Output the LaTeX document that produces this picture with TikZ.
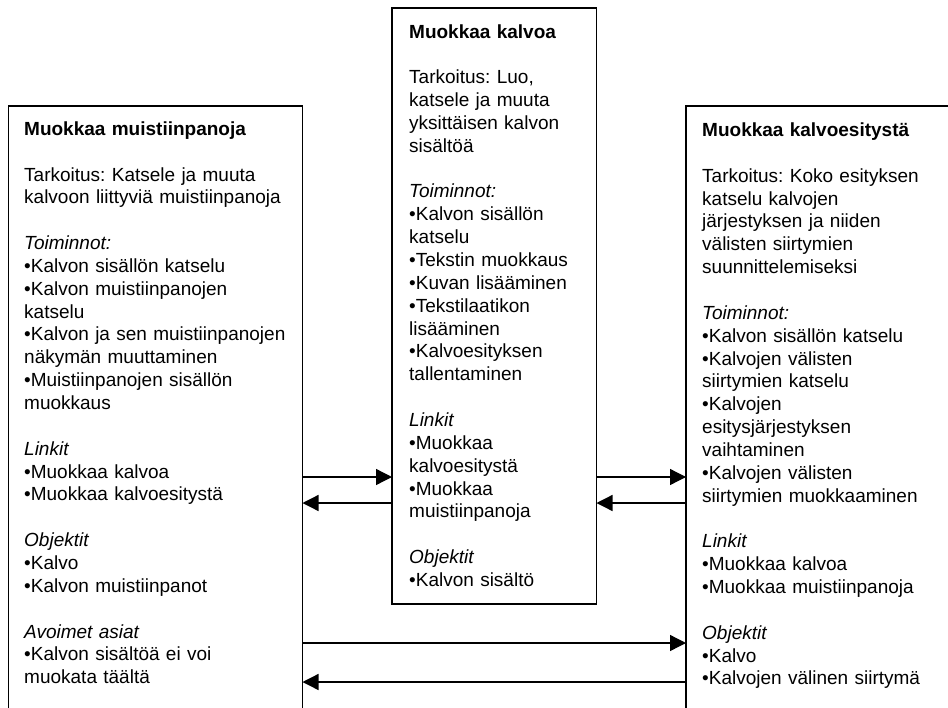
\documentclass[tikz,border=0pt]{standalone}
\usepackage{fontspec}
\setmainfont{Liberation Sans}
\usetikzlibrary{arrows.meta}
\frenchspacing
\begin{document}
\begin{tikzpicture}[x=1pt,y=-1pt,
  panel/.style={draw=black, line width=1.9pt, fill=white, outer sep=0pt, inner sep=0pt, anchor=north west},
  body/.style={anchor=base west, inner sep=0pt, align=left, font=\fontsize{19pt}{22.85pt}\selectfont},
  link/.style={draw=black, line width=1.3pt, -{Triangle[length=16pt,width=16pt]}}]
\clip (0,0) rectangle (948,707);
\fill[white] (0,0) rectangle (948,707);

% the three views; the outer ones run past the lower edge
\node[panel, minimum width=294pt, minimum height=640pt] (notes) at (8.5,105.7) {};
\node[panel, minimum width=204.5pt, minimum height=595.7pt] (slide) at (392,8.3) {};
\node[panel, minimum width=300pt, minimum height=640pt] (show) at (686,105.7) {};

\node[body, text width=275pt] (notestext) at (24,135.3) {%
\textbf{Muokkaa muistiinpanoja}\\[\baselineskip]
Tarkoitus: Katsele ja muuta\\
kalvoon liittyviä muistiinpanoja\\[\baselineskip]
\textit{Toiminnot:}\\
•Kalvon sisällön katselu\\
•Kalvon muistiinpanojen\\
katselu\\
•Kalvon ja sen muistiinpanojen\\
näkymän muuttaminen\\
•Muistiinpanojen sisällön\\
muokkaus\\[\baselineskip]
\textit{Linkit}\\
•Muokkaa kalvoa\\
•Muokkaa kalvoesitystä\\[\baselineskip]
\textit{Objektit}\\
•Kalvo\\
•Kalvon muistiinpanot\\[\baselineskip]
\textit{Avoimet asiat}\\
•Kalvon sisältöä ei voi\\
muokata täältä};

\node[body, text width=185pt] (slidetext) at (409,38) {%
\textbf{Muokkaa kalvoa}\\[\baselineskip]
Tarkoitus: Luo,\\
katsele ja muuta\\
yksittäisen kalvon\\
sisältöä\\[\baselineskip]
\textit{Toiminnot:}\\
•Kalvon sisällön\\
katselu\\
•Tekstin muokkaus\\
•Kuvan lisääminen\\
•Tekstilaatikon\\
lisääminen\\
•Kalvoesityksen\\
tallentaminen\\[\baselineskip]
\textit{Linkit}\\
•Muokkaa\\
kalvoesitystä\\
•Muokkaa\\
muistiinpanoja\\[\baselineskip]
\textit{Objektit}\\
•Kalvon sisältö};

\node[body, text width=240pt] (showtext) at (702,136.5) {%
\textbf{Muokkaa kalvoesitystä}\\[\baselineskip]
Tarkoitus: Koko esityksen\\
katselu kalvojen\\
järjestyksen ja niiden\\
välisten siirtymien\\
suunnittelemiseksi\\[\baselineskip]
\textit{Toiminnot:}\\
•Kalvon sisällön katselu\\
•Kalvojen välisten\\
siirtymien katselu\\
•Kalvojen\\
esitysjärjestyksen\\
vaihtaminen\\
•Kalvojen välisten\\
siirtymien muokkaaminen\\[\baselineskip]
\textit{Linkit}\\
•Muokkaa kalvoa\\
•Muokkaa muistiinpanoja\\[\baselineskip]
\textit{Objektit}\\
•Kalvo\\
•Kalvojen välinen siirtymä};

% heights of the navigation links
\coordinate (ya) at (0,477);
\coordinate (yb) at (0,503);
\coordinate (yc) at (0,643);
\coordinate (yd) at (0,682);

\draw[link] (notes.east |- ya) -- (slide.west |- ya);
\draw[link] (slide.west |- yb) -- (notes.east |- yb);
\draw[link] (slide.east |- ya) -- (show.west |- ya);
\draw[link] (show.west |- yb) -- (slide.east |- yb);
\draw[link] (notes.east |- yc) -- (show.west |- yc);
\draw[link] (show.west |- yd) -- (notes.east |- yd);
\end{tikzpicture}
\end{document}
